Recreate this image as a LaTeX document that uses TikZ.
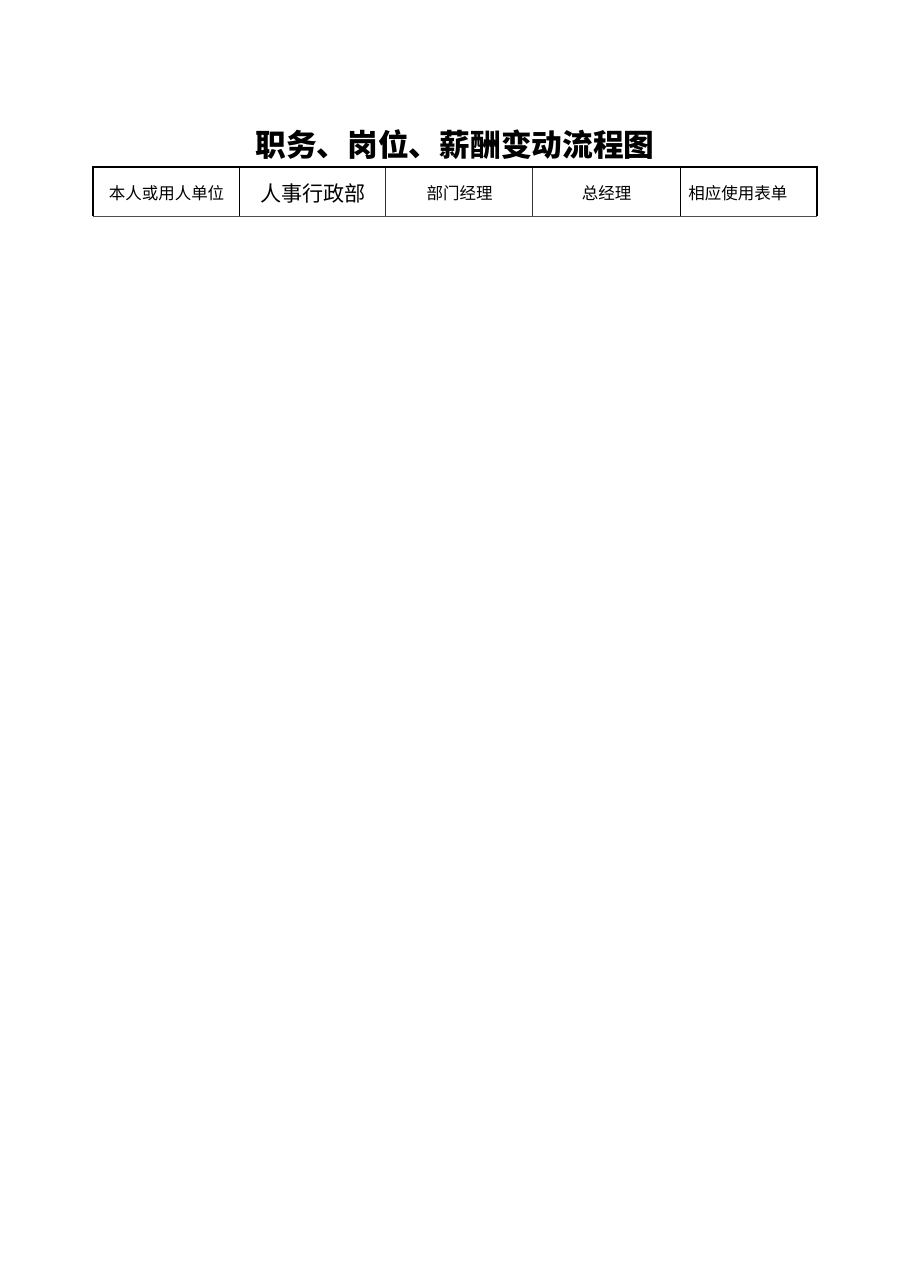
\documentclass[tikz,border=0pt]{standalone}
\usepackage{fontspec}
\newfontfamily\cjk{Noto Sans CJK SC}

\tikzset{
  head/.style={inner sep=0pt, font=\cjk\fontsize{10.8}{12}\selectfont},
  bighead/.style={inner sep=0pt, font=\cjk\fontsize{13.8}{15}\selectfont},
}

\begin{document}
\begin{tikzpicture}[x=0.6546pt, y=-0.6546pt]
    \useasboundingbox (0,0) rectangle (909,1286);
    \node[inner sep=0pt, font=\cjk\bfseries\fontsize{20.1}{22}\selectfont] (title) at (455,145) {职务、岗位、薪酬变动流程图};
    % header row
    \draw[line width=0.6pt, black!70] (93,216) -- (817,216);
    \draw[line width=0.5pt] (239,167) -- (239,216);
    \draw[line width=0.5pt, black!80] (385,167) -- (385,216);
    \draw[line width=0.5pt, black!80] (532,167) -- (532,216);
    \draw[line width=0.5pt] (680,167) -- (680,216);
    \draw[line width=1.6pt] (93,216) -- (93,167) -- (817,167) -- (817,216);
    \node[head] (self) at (166.5,193) {本人或用人单位};
    \node[bighead] (hr) at (313,193) {人事行政部};
    \node[head] (dept) at (459.5,193) {部门经理};
    \node[head] (gm) at (606.5,193) {总经理};
    \node[head, anchor=west] (forms) at (688,193) {相应使用表单};
\end{tikzpicture}
\end{document}
